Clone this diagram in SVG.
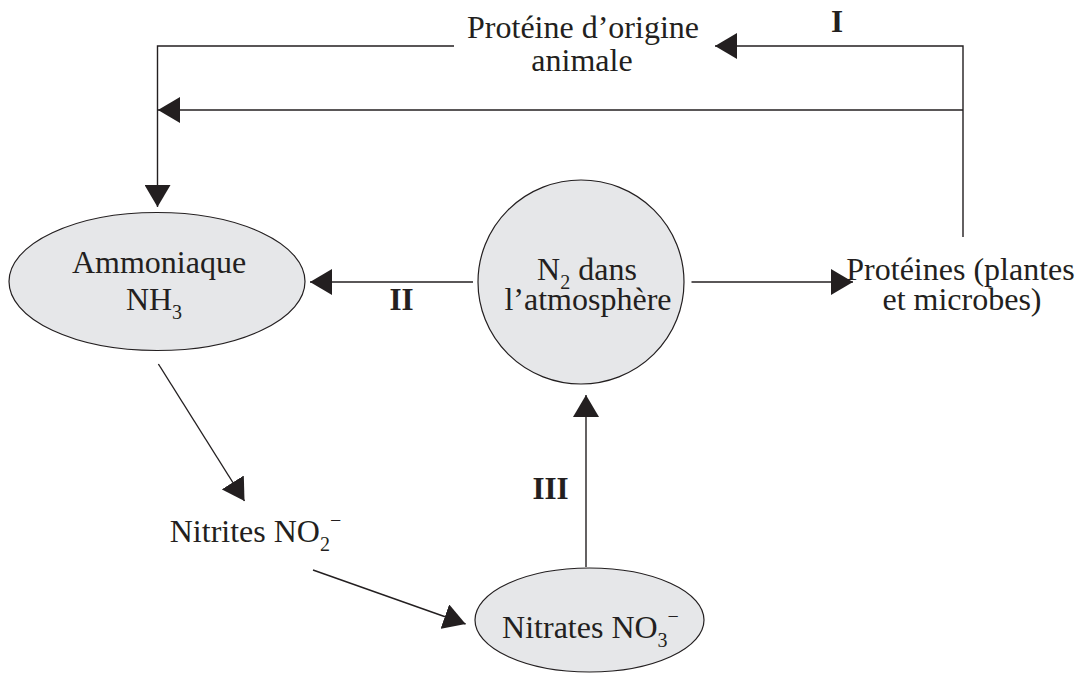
<svg xmlns="http://www.w3.org/2000/svg" width="1084" height="675" viewBox="0 0 1084 675">
<defs>
<style>
.t{font-family:"Liberation Serif","Times New Roman",serif;font-size:32px;fill:#231f20;text-anchor:middle}
.b{font-family:"Liberation Serif","Times New Roman",serif;font-size:31px;font-weight:bold;fill:#231f20;text-anchor:middle}
.sub{font-size:20px}
.n{fill:#e6e7e9;stroke:#231f20;stroke-width:1.2}
.c{fill:none;stroke:#231f20;stroke-width:1.4;marker-end:url(#ah)}
</style>
<marker id="ah" viewBox="0 0 22 26" refX="22" refY="13" markerWidth="22" markerHeight="26" orient="auto" markerUnits="userSpaceOnUse">
<path d="M0,0 L22,13 L0,26 z" fill="#231f20"/>
</marker>
</defs>
<g id="connectors">
<path class="c" d="M454,46 H157.5 V207"/>
<path class="c" d="M963,110 H158"/>
<path class="c" d="M963,237 V46 H715"/>
<path class="c" d="M473,282 H310"/>
<path class="c" d="M691.5,282 H853"/>
<path class="c" d="M158.4,364 L244.5,501"/>
<path class="c" d="M313,570 L465.6,624"/>
<path class="c" d="M586,567 V395"/>
</g>
<g id="labels">
<text class="b" x="837" y="32">I</text>
<text class="b" x="401.5" y="310">II</text>
<text class="b" x="550.5" y="499">III</text>
</g>
<g id="proteine-animale">
<text class="t" x="583" y="38">Protéine d’origine</text>
<text class="t" x="582" y="71">animale</text>
</g>
<g id="ammoniaque">
<ellipse class="n" cx="157" cy="281.5" rx="148" ry="69"/>
<text class="t" x="159" y="273">Ammoniaque</text>
<text class="t" x="154" y="310">NH<tspan class="sub" dy="9">3</tspan></text>
</g>
<g id="n2">
<ellipse class="n" cx="581" cy="282" rx="103" ry="102"/>
<text class="t" x="587" y="280">N<tspan class="sub" dy="9">2</tspan><tspan dy="-9"> dans</tspan></text>
<text class="t" x="588" y="310">l’atmosphère</text>
</g>
<g id="proteines">
<text class="t" x="960.5" y="280">Protéines (plantes</text>
<text class="t" x="962" y="310">et microbes)</text>
</g>
<g id="nitrites">
<text class="t" x="255.5" y="542">Nitrites NO<tspan class="sub" dy="9">2</tspan><tspan class="sub" dy="-24">−</tspan></text>
</g>
<g id="nitrates">
<ellipse class="n" cx="589.5" cy="620" rx="114.5" ry="52"/>
<text class="t" x="590.5" y="638">Nitrates NO<tspan class="sub" dy="9">3</tspan><tspan class="sub" dy="-24">−</tspan></text>
</g>
</svg>
